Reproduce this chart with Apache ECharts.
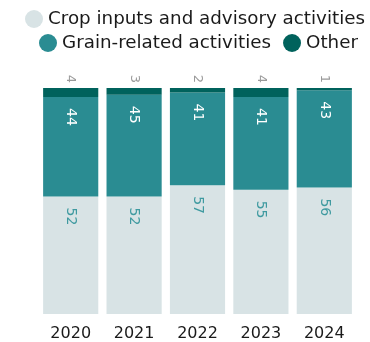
<!DOCTYPE html>
<html>
<head>
<meta charset="utf-8">
<script src="https://cdn.jsdelivr.net/npm/echarts@6/dist/echarts.min.js"></script>
<style>html,body{margin:0;padding:0;background:#fff}#c{width:370px;height:342px}</style>
</head>
<body>
<div id="c"></div>
<script>
const categories = ['2020', '2021', '2022', '2023', '2024'];
const cropInputs = [52, 52, 57, 55, 56];
const grainRelated = [44, 45, 41, 41, 43];
const other = [4, 3, 2, 4, 1];
const seriesNames = ['Crop inputs and advisory activities', 'Grain-related activities', 'Other'];

const FONT = '"DejaVu Sans", sans-serif';
const chart = echarts.init(document.getElementById('c'), null, {renderer: 'canvas'});
const insideLabel = (color) => ({
  show: true, position: 'insideTop', distance: 11, rotate: -90,
  align: 'left', verticalAlign: 'middle',
  color: color, fontSize: 14, fontFamily: FONT
});
chart.setOption({
  animation: false,
  legend: [
    {data: [seriesNames[0]], top: 5, left: 20, icon: 'circle', itemWidth: 18, itemHeight: 18, itemGap: 14,
     textStyle: {fontSize: 18.3, color: '#1a1a1a', fontFamily: FONT}},
    {data: [seriesNames[1], seriesNames[2]], top: 29, left: 34, icon: 'circle', itemWidth: 18, itemHeight: 18, itemGap: 12,
     textStyle: {fontSize: 18.3, color: '#1a1a1a', fontFamily: FONT}}
  ],
  grid: {left: 39, right: 14, top: 88, bottom: 27},
  xAxis: {
    type: 'category', data: categories,
    axisLine: {show: false}, axisTick: {show: false},
    axisLabel: {fontSize: 16, color: '#1a1a1a', margin: 12, fontFamily: FONT}
  },
  yAxis: {type: 'value', min: 0, max: 100, show: false, splitLine: {show: false}},
  series: [
    {name: seriesNames[0], type: 'bar', stack: 's', data: cropInputs, barCategoryGap: '13%',
     itemStyle: {color: '#d8e3e5'}, label: insideLabel('#3f9aa0')},
    {name: seriesNames[1], type: 'bar', stack: 's', data: grainRelated,
     itemStyle: {color: '#2a8c92'}, label: insideLabel('#ffffff')},
    {name: seriesNames[2], type: 'bar', stack: 's', data: other,
     itemStyle: {color: '#00625c'},
     label: {show: true, position: 'top', distance: 5, rotate: -90, align: 'right', verticalAlign: 'middle',
             color: '#9a9a9a', fontSize: 13, fontFamily: FONT}}
  ]
});
</script>
</body>
</html>
